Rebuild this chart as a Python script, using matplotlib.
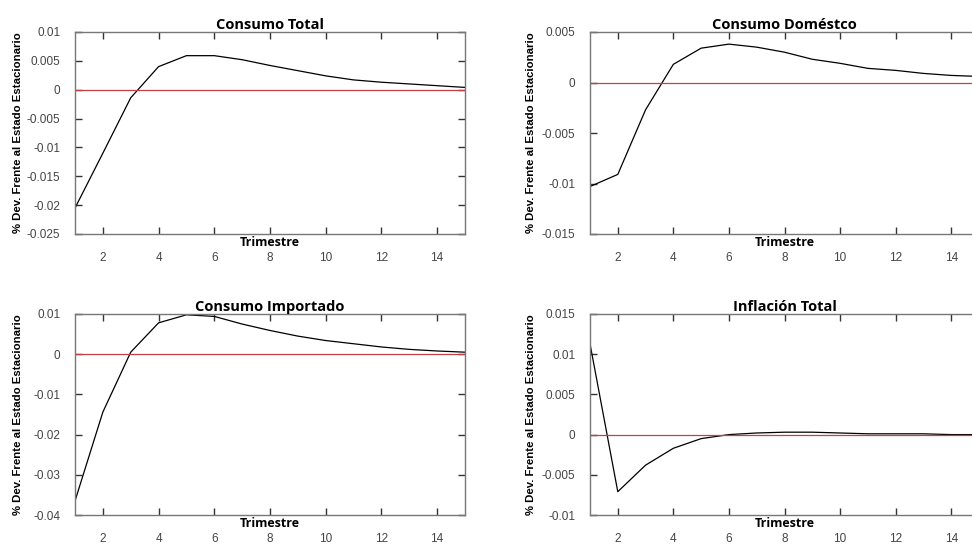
import numpy as np
import matplotlib.pyplot as plt

trimestre = np.arange(1, 16)

consumo_total = [-0.0205, -0.011, -0.0014, 0.0040, 0.0059, 0.0059, 0.0052, 0.0042,
                 0.0033, 0.0024, 0.0017, 0.0013, 0.0010, 0.0007, 0.0004]
consumo_domestico = [-0.0103, -0.0091, -0.0027, 0.0018, 0.0034, 0.0038, 0.0035, 0.0030,
                     0.0023, 0.0019, 0.0014, 0.0012, 0.0009, 0.0007, 0.0006]
consumo_importado = [-0.0365, -0.0144, 0.0005, 0.0078, 0.0098, 0.0094, 0.0075, 0.0059,
                     0.0045, 0.0034, 0.0026, 0.0018, 0.0012, 0.0008, 0.0005]
inflacion_total = [0.0113, -0.0071, -0.0038, -0.0017, -0.0005, 0.0000, 0.0002, 0.0003,
                   0.0003, 0.0002, 0.0001, 0.0001, 0.0001, 0.0000, 0.0000]

titulos = ["Consumo Total", "Consumo Doméstco", "Consumo Importado", "Inflación Total"]
series = [consumo_total, consumo_domestico, consumo_importado, inflacion_total]
ylims = [(-0.025, 0.01), (-0.015, 0.005), (-0.04, 0.01), (-0.01, 0.015)]
yticks = [
    [-0.025, -0.02, -0.015, -0.01, -0.005, 0, 0.005, 0.01],
    [-0.015, -0.01, -0.005, 0, 0.005],
    [-0.04, -0.03, -0.02, -0.01, 0, 0.01],
    [-0.01, -0.005, 0, 0.005, 0.01, 0.015],
]
xticks = [2, 4, 6, 8, 10, 12, 14]

W, H = 972, 545
# axes boxes in pixels: left, top, right, bottom
boxes = [(75, 32, 465, 234), (590, 32, 979, 234),
         (75, 314, 465, 515), (590, 314, 979, 515)]
ylabel_x = [18, 531, 18, 531]

fig = plt.figure(figsize=(W / 100, H / 100), dpi=100)

def fmt(v):
    if v == 0:
        return "0"
    return "%g" % v

for i in range(4):
    l, t, r, b = boxes[i]
    ax = fig.add_axes([l / W, 1 - b / H, (r - l) / W, (b - t) / H])
    ax.plot(trimestre, series[i], color="black", lw=0.9)
    ax.axhline(0, color="#c0404a", lw=0.9)
    ax.set_xlim(1, 15)
    ax.set_ylim(*ylims[i])
    ax.set_xticks(xticks)
    ax.set_yticks(yticks[i])
    ax.set_yticklabels([fmt(v) for v in yticks[i]])
    ax.tick_params(direction="in", top=True, right=True, length=5, width=1,
                   color="#333333", labelsize=8.5, labelcolor="#444444",
                   labelfontfamily="Liberation Sans")
    ax.tick_params(axis="x", pad=13)
    ax.tick_params(axis="y", pad=10.5)
    for s in ax.spines.values():
        s.set_color("#777777")
        s.set_linewidth(1)
    ax.set_title(titulos[i], fontsize=10.5, fontweight="bold", family="Open Sans", pad=2)
    ax.text(0.5, -0.01, "Trimestre", transform=ax.transAxes, ha="center", va="top",
            fontsize=9, fontweight="bold", family="Open Sans")
    fig.text(ylabel_x[i] / W, 1 - ((t + b) / 2) / H, "% Dev. Frente al Estado Estacionario",
             rotation=90, ha="center", va="center", fontsize=8.2, fontweight="bold",
             family="Liberation Sans")

fig.savefig("out.png", dpi=100)
